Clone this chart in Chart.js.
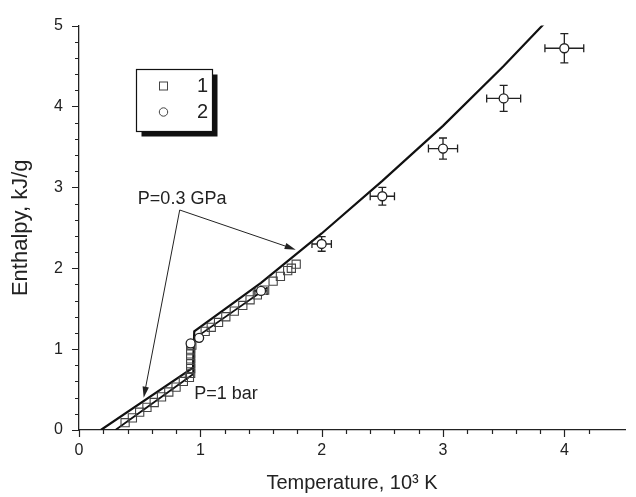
<!DOCTYPE html>
<html>
<head>
<meta charset="utf-8">
<script src="https://cdn.jsdelivr.net/npm/chart.js@4/dist/chart.umd.min.js"></script>
<style>
  body { margin: 0; background: #fff; }
  canvas { display: block; }
</style>
</head>
<body>
<canvas id="chart" width="636" height="497"></canvas>
<script>
// P = 0.3 GPa curve
const gpaT = [0.18, 0.94, 0.95, 1.5, 2.0, 2.5, 3.0, 3.5, 3.85];
const gpaH = [0, 0.77, 1.22, 1.82, 2.43, 3.08, 3.76, 4.5, 5.05];

// P = 1 bar curve
const barT = [0.3, 0.94, 0.95, 1.55];
const barH = [0, 0.69, 1.13, 1.76];

// series 1 (squares)
const sqT = [0.38, 0.44, 0.5, 0.56, 0.62, 0.68, 0.74, 0.8, 0.86, 0.91,
  0.92, 0.92, 0.92, 0.92, 0.92, 0.92, 0.93,
  1.04, 1.09, 1.15, 1.21, 1.28, 1.35, 1.41, 1.47, 1.53, 1.6, 1.66, 1.72, 1.75, 1.79];
const sqH = [0.09, 0.15, 0.22, 0.28, 0.34, 0.41, 0.47, 0.53, 0.6, 0.65,
  0.7, 0.76, 0.82, 0.88, 0.94, 1.0, 1.05,
  1.22, 1.27, 1.33, 1.4, 1.47, 1.54, 1.61, 1.67, 1.73, 1.84, 1.9, 1.97, 2.0, 2.05];

// series 2 (circles) with errors
const circT = [0.92, 0.99, 1.5, 2.0, 2.5, 3.0, 3.5, 4.0];
const circH = [1.07, 1.14, 1.72, 2.3, 2.89, 3.48, 4.1, 4.72];
const errT = [0, 0, 0.05, 0.08, 0.1, 0.12, 0.14, 0.16];
const errH = [0, 0, 0, 0.09, 0.11, 0.13, 0.16, 0.18];

const legendLabels = ["1", "2"];
const xTitle = "Temperature, 10\u00B3 K";
const yTitle = "Enthalpy, kJ/g";

const FONT = "'Liberation Sans', Arial, sans-serif";
const INK = "#222";

function pts(xs, ys) {
  return xs.map((x, i) => ({ x: x, y: ys[i] }));
}

const errorBars = {
  id: "errorBars",
  beforeDatasetDraw(chart, args) {
    if (args.index !== 0) return;
    const ctx = chart.ctx;
    const xs = chart.scales.x, ys = chart.scales.y;
    ctx.save();
    ctx.strokeStyle = INK;
    ctx.lineWidth = 1.3;
    const cap = 4;
    circT.forEach((t, i) => {
      const px = xs.getPixelForValue(t), py = ys.getPixelForValue(circH[i]);
      if (errT[i] > 0) {
        const x1 = xs.getPixelForValue(t - errT[i]), x2 = xs.getPixelForValue(t + errT[i]);
        ctx.beginPath();
        ctx.moveTo(x1, py); ctx.lineTo(x2, py);
        ctx.moveTo(x1, py - cap); ctx.lineTo(x1, py + cap);
        ctx.moveTo(x2, py - cap); ctx.lineTo(x2, py + cap);
        ctx.stroke();
      }
      if (errH[i] > 0) {
        const y1 = ys.getPixelForValue(circH[i] - errH[i]), y2 = ys.getPixelForValue(circH[i] + errH[i]);
        ctx.beginPath();
        ctx.moveTo(px, y1); ctx.lineTo(px, y2);
        ctx.moveTo(px - cap, y1); ctx.lineTo(px + cap, y1);
        ctx.moveTo(px - cap, y2); ctx.lineTo(px + cap, y2);
        ctx.stroke();
      }
    });
    ctx.restore();
  }
};

// outward tick marks, long at integers, short every 0.2
const axisTicks = {
  id: "axisTicks",
  afterDraw(chart) {
    const ctx = chart.ctx;
    const xs = chart.scales.x, ys = chart.scales.y;
    const area = chart.chartArea;
    ctx.save();
    ctx.strokeStyle = INK;
    ctx.lineWidth = 1.2;
    ctx.beginPath();
    xs.ticks.forEach(t => {
      const v = t.value;
      if (Math.abs(v * 5 - Math.round(v * 5)) > 1e-6) return;
      const major = Math.abs(v - Math.round(v)) < 1e-6;
      const px = Math.round(xs.getPixelForValue(v)) + 0.5;
      ctx.moveTo(px, area.bottom);
      ctx.lineTo(px, area.bottom + (major ? 7 : 4));
    });
    ys.ticks.forEach(t => {
      const v = t.value;
      if (Math.abs(v * 5 - Math.round(v * 5)) > 1e-6) return;
      const major = Math.abs(v - Math.round(v)) < 1e-6;
      const py = Math.round(ys.getPixelForValue(v)) + 0.5;
      ctx.moveTo(area.left, py);
      ctx.lineTo(area.left - (major ? 7 : 4), py);
    });
    ctx.stroke();
    ctx.restore();
  }
};

function arrow(ctx, x0, y0, x1, y1) {
  const a = Math.atan2(y1 - y0, x1 - x0);
  const len = 11, half = 3.2;
  ctx.beginPath();
  ctx.moveTo(x0, y0);
  ctx.lineTo(x1 - Math.cos(a) * len * 0.8, y1 - Math.sin(a) * len * 0.8);
  ctx.stroke();
  ctx.beginPath();
  ctx.moveTo(x1, y1);
  ctx.lineTo(x1 - Math.cos(a) * len - Math.sin(a) * half, y1 - Math.sin(a) * len + Math.cos(a) * half);
  ctx.lineTo(x1 - Math.cos(a) * len + Math.sin(a) * half, y1 - Math.sin(a) * len - Math.cos(a) * half);
  ctx.closePath();
  ctx.fill();
}

const notes = {
  id: "notes",
  afterDraw(chart) {
    const ctx = chart.ctx;
    const xs = chart.scales.x, ys = chart.scales.y;
    const X = v => xs.getPixelForValue(v), Y = v => ys.getPixelForValue(v);
    ctx.save();
    ctx.fillStyle = INK;
    ctx.strokeStyle = INK;
    ctx.font = "18px " + FONT;
    ctx.textBaseline = "middle";
    ctx.textAlign = "center";
    ctx.fillText("P=0.3 GPa", X(0.85), Y(2.86));
    ctx.textAlign = "left";
    ctx.fillText("P=1 bar", X(0.95), Y(0.45));
    ctx.lineWidth = 1;
    arrow(ctx, X(0.83), Y(2.72), X(0.533), Y(0.4));
    arrow(ctx, X(0.83), Y(2.72), X(1.786), Y(2.23));

    // legend box with shadow
    const bx = 136, by = 69, bw = 76, bh = 62, sh = 5.5;
    ctx.fillStyle = "#111";
    ctx.fillRect(bx + sh, by + sh, bw, bh);
    ctx.fillStyle = "#fff";
    ctx.fillRect(bx, by, bw, bh);
    ctx.strokeStyle = "#111";
    ctx.lineWidth = 1.2;
    ctx.strokeRect(bx + 0.5, by + 0.5, bw, bh);
    ctx.strokeStyle = "#444";
    ctx.lineWidth = 1;
    ctx.strokeRect(159.5, 82, 8, 8);
    ctx.beginPath();
    ctx.arc(163.5, 112, 4.2, 0, Math.PI * 2);
    ctx.stroke();
    ctx.fillStyle = INK;
    ctx.font = "20px " + FONT;
    ctx.textAlign = "right";
    ctx.fillText(legendLabels[0], 208, 86);
    ctx.fillText(legendLabels[1], 208, 112);
    ctx.restore();
  }
};

const isMajor = v => Math.abs(v - Math.round(v)) < 1e-6;

new Chart(document.getElementById("chart"), {
  type: "scatter",
  data: {
    datasets: [
      {
        label: legendLabels[1],
        data: pts(circT, circH),
        pointStyle: "circle",
        pointRadius: 4.5,
        borderColor: INK,
        borderWidth: 1.3,
        backgroundColor: "#fff",
      },
      {
        label: legendLabels[0],
        data: pts(sqT, sqH),
        pointStyle: "rect",
        pointRadius: 5.8,
        borderColor: "#444",
        borderWidth: 1.1,
        backgroundColor: "rgba(0,0,0,0)",
      },
      {
        label: "P=0.3 GPa",
        data: pts(gpaT, gpaH),
        showLine: true,
        pointRadius: 0,
        borderColor: "#111",
        borderWidth: 2.2,
      },
      {
        label: "P=1 bar",
        data: pts(barT, barH),
        showLine: true,
        pointRadius: 0,
        borderColor: "#111",
        borderWidth: 1.8,
      },
    ],
  },
  options: {
    responsive: false,
    animation: false,
    events: [],
    layout: { padding: { left: 0, right: 0, top: 21, bottom: 0 } },
    plugins: { legend: { display: false }, tooltip: { enabled: false } },
    scales: {
      x: {
        type: "linear",
        position: "bottom",
        min: 0,
        max: 4.5,
        afterFit: s => { s.height = 67; },
        grid: { display: false, drawTicks: false },
        border: { display: true, color: INK, width: 1.3 },
        ticks: {
          stepSize: 0.2,
          autoSkip: false,
          maxRotation: 0,
          padding: 11,
          color: INK,
          font: { family: FONT, size: 16 },
          callback: v => (isMajor(v) ? String(Math.round(v)) : ""),
        },
        title: {
          display: true,
          text: xTitle,
          color: INK,
          font: { family: FONT, size: 20 },
          padding: { top: 0, bottom: 2 },
        },
      },
      y: {
        type: "linear",
        min: 0,
        max: 5,
        afterFit: s => { s.width = 79; },
        grid: { display: false, drawTicks: false },
        border: { display: true, color: INK, width: 1.3 },
        ticks: {
          stepSize: 0.2,
          autoSkip: false,
          padding: 16,
          color: INK,
          font: { family: FONT, size: 16 },
          callback: v => (isMajor(v) ? String(Math.round(v)) : ""),
        },
        title: {
          display: true,
          text: yTitle,
          color: INK,
          font: { family: FONT, size: 22 },
          padding: { top: 8, bottom: 0 },
        },
      },
    },
  },
  plugins: [errorBars, axisTicks, notes],
});
</script>
</body>
</html>
